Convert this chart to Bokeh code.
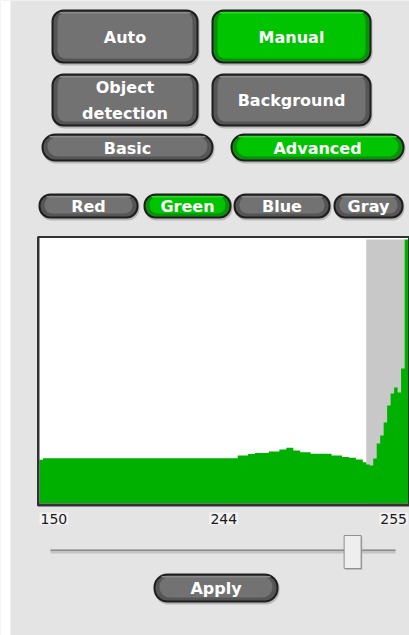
from bokeh.plotting import figure
from bokeh.models import Range1d, ColumnDataSource
from bokeh.embed import file_html
from bokeh.resources import INLINE
from bokeh.core.properties import value

# ---------------- data ----------------
bins = list(range(150, 256))          # intensity values 150..255
counts = [
    437,                                                   # 150
    453, 453, 453, 453, 453, 453, 453, 453, 453, 453,      # 151-160
    453, 453, 453, 453, 453, 453, 453, 453, 453, 453,      # 161-170
    453, 453, 453, 453, 453, 453, 453, 453, 453, 453,      # 171-180
    453, 453, 453, 453, 453, 453, 453, 453, 453, 453,      # 181-190
    453, 453, 453, 453, 453, 453, 453, 453, 453, 453,      # 191-200
    453, 453, 453, 453, 453, 453,                          # 201-206
    480, 480, 480,                                         # 207-209
    495, 495,                                              # 210-211
    505, 505, 505, 505,                                    # 212-215
    520, 520, 520,                                         # 216-218
    540, 540,                                              # 219-220
    557, 557,                                              # 221-222
    530, 530,                                              # 223-224
    513, 513, 513,                                         # 225-227
    497, 497, 497, 497, 497, 497,                          # 228-233
    480, 480, 480,                                         # 234-236
    465, 465,                                              # 237-238
    457, 457,                                              # 239-240
    440, 440,                                              # 241-242
    413,                                                   # 243
    390,                                                   # 244
    380,                                                   # 245
    450, 600, 680, 810, 980, 1100, 1160, 1110, 1350,       # 246-254
    2640,                                                  # 255 (clipped)
]
threshold = 244
range_min, range_max = 150, 255
tick_labels = ["150", "244", "255"]

mode_labels = ["Auto", "Manual"]
source_labels = ["Object\ndetection", "Background"]
level_labels = ["Basic", "Advanced"]
channel_labels = ["Red", "Green", "Blue", "Gray"]
apply_label = "Apply"
active = {"Manual", "Advanced", "Green"}

# ---------------- layout (screen pixels) ----------------
W, H = 409, 635
BG = "#e4e4e4"
GREEN = "#00b000"

HX0, HX1 = 39.0, 407.5        # histogram plot x extent
HBASE = 503.0                 # baseline pixel
px_per_bin = (HX1 - HX0) / len(bins)
px_per_count = 0.1

p = figure(width=W, height=H, output_backend="svg", toolbar_location=None,
           x_range=Range1d(0, W), y_range=Range1d(H, 0),
           min_border=0, min_border_left=0, min_border_right=0,
           min_border_top=0, min_border_bottom=0)
p.styles = {"position": "absolute", "left": "0px", "top": "0px"}
p.axis.visible = False
p.grid.visible = False
p.outline_line_color = None
p.background_fill_color = BG
p.border_fill_color = BG

# histogram scales
p.extra_x_ranges = {"hist": Range1d(range_min - HX0 / px_per_bin,
                                    range_min + (W - HX0) / px_per_bin)}
p.extra_y_ranges = {"cnt": Range1d((HBASE - H) / px_per_count,
                                   HBASE / px_per_count)}

# white strip at left edge of page
p.quad(left=0, right=10, top=0, bottom=H, fill_color="white", line_color=None)


def button(x0, x1, y0, y1, label, r, size="16px"):
    on = label in active
    outer = "#1e1e1e"
    mid = "#0a8f0a" if on else "#555555"
    inner = "#00c400" if on else "#727272"
    hi = "#2fd82f" if on else "#8a8a8a"
    r = int(r)
    # shadow
    p.quad(left=x0 + 1, right=x1 + 1, top=y0 + 1, bottom=y1 + 2,
           fill_color="#9a9a9a", fill_alpha=0.6, line_color=None, border_radius=r)
    p.quad(left=x0, right=x1, top=y0, bottom=y1,
           fill_color=outer, line_color=None, border_radius=r)
    p.quad(left=x0 + 2, right=x1 - 2, top=y0 + 2, bottom=y1 - 2,
           fill_color=mid, line_color=None, border_radius=max(r - 2, 0))
    p.quad(left=x0 + 6, right=x1 - 6, top=y0 + 3, bottom=y1 - 5,
           fill_color=inner, line_color=None, border_radius=max(r - 4, 0))
    p.quad(left=x0 + 8, right=x1 - 8, top=y0 + 2.5, bottom=y0 + 4,
           fill_color=hi, line_color=None, border_radius=1)
    p.text(x=[(x0 + x1) / 2], y=[(y0 + y1) / 2 + 0.5], text=[label],
           text_font=value("DejaVu Sans"), text_font_style="bold",
           text_font_size=size, text_color="white", text_align="center",
           text_baseline="middle", text_line_height=1.4)


# big buttons
button(51, 198, 9, 63, mode_labels[0], 12)
button(211, 371, 9, 63, mode_labels[1], 12)
button(51, 198, 73, 126, source_labels[0], 12)
button(211, 371, 73, 126, source_labels[1], 12)
# pill buttons
button(41, 213, 133, 161, level_labels[0], 14)
button(230, 404, 133, 161, level_labels[1], 14)
chan_x = [(38, 138), (143, 231), (233, 330), (333, 403)]
for (a, b), lab in zip(chan_x, channel_labels):
    button(a, b, 193, 218, lab, 12)

# histogram frame
p.quad(left=37.5, right=408.5, top=236.5, bottom=505,
       fill_color="white", line_color="#333333", line_width=2)

# threshold band (gray) and bars
p.quad(left=threshold, right=range_max, bottom=0,
       top=(HBASE - 239) / px_per_count,
       x_range_name="hist", y_range_name="cnt",
       fill_color="#c8c8c8", line_color=None)

if hasattr(p, "varea_step"):
    step_src = ColumnDataSource(dict(x=bins + [range_max + 1],
                                     y=counts + [counts[-1]]))
    p.varea_step(x="x", y1=0, y2="y", step_mode="after", source=step_src,
                 x_range_name="hist", y_range_name="cnt", fill_color=GREEN)
else:
    src = ColumnDataSource(dict(x=[b + 0.5 for b in bins], top=counts))
    p.vbar(x="x", width=1.15, top="top", bottom=0, source=src,
           x_range_name="hist", y_range_name="cnt",
           fill_color=GREEN, line_color=None)

# redraw bottom/left border over bars
p.segment(x0=[37.5, 38], y0=[504, 236.5], x1=[408.5, 38], y1=[504, 505],
          line_color="#333333", line_width=2)

# tick labels
lab_x = [range_min, (range_min + range_max + 1) / 2, range_max + 1]
lab_align = ["left", "center", "right"]
for xv, t, al in zip(lab_x, tick_labels, lab_align):
    p.text(x=[xv], y=[HBASE + 15], text=[t], x_range_name="hist",
           y_range_name="default",
           text_font=value("DejaVu Sans"), text_font_size="14px",
           text_color="#1a1a1a", text_align=al, text_baseline="middle",
           background_fill_color="#f2f2f2", padding=1)

# slider
SL0, SL1, THW = 50, 395, 17
p.quad(left=SL0, right=SL1, top=549, bottom=553, fill_color="#c4c4c4",
       line_color=None)
p.quad(left=SL0, right=SL1, top=549, bottom=550.5, fill_color="#8c8c8c",
       line_color=None)
thumb_left = SL0 + (threshold - range_min) / (range_max - range_min) * (SL1 - SL0 - THW)
p.quad(left=thumb_left + 1, right=thumb_left + THW + 1, top=536, bottom=569,
       fill_color="#9a9a9a", line_color=None)
p.quad(left=thumb_left, right=thumb_left + THW, top=535, bottom=568,
       fill_color="#eeeeee", line_color="#8f8f8f", line_width=1)

# apply button
button(153, 278, 573, 602, apply_label, 14)

open("out.html", "w").write(file_html(p, INLINE))
